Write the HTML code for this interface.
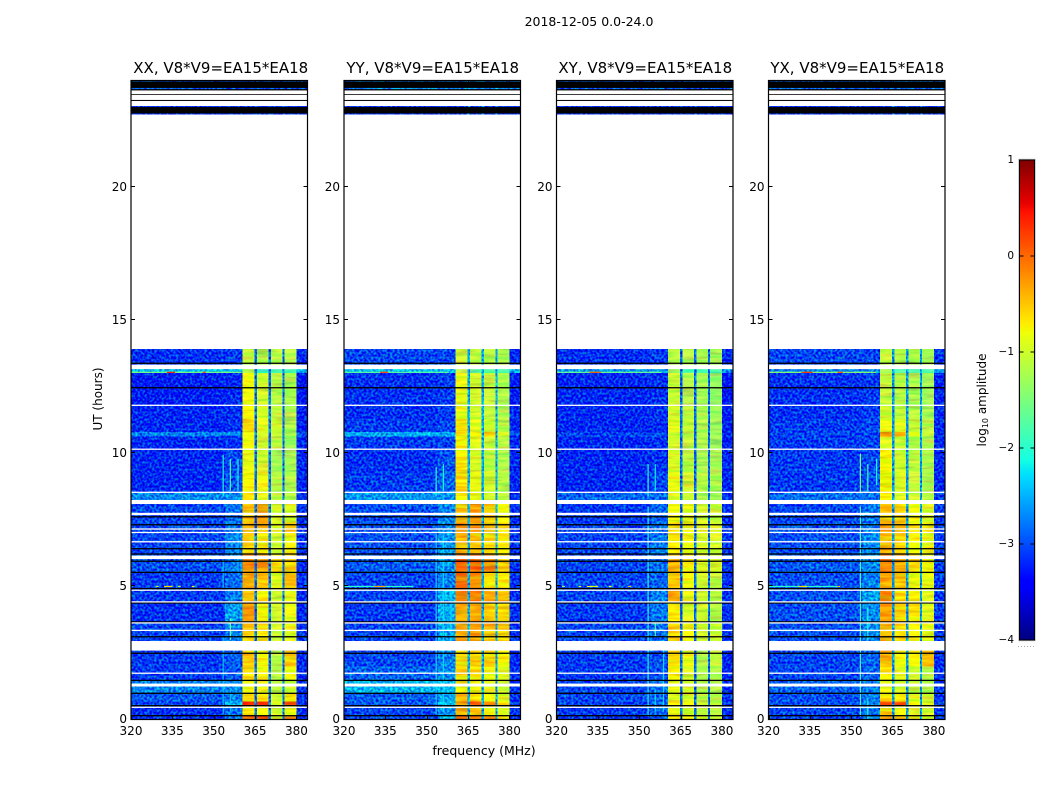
<!DOCTYPE html>
<html>
<head>
<meta charset="utf-8">
<title>2018-12-05 spectrogram</title>
<style>
html,body{margin:0;padding:0;background:#fff;width:1050px;height:800px;overflow:hidden}
svg{display:block}
text{font-family:"DejaVu Sans","Liberation Sans",sans-serif;fill:#000}
</style>
</head>
<body>
<svg id="figure" xmlns="http://www.w3.org/2000/svg" width="1050" height="800" viewBox="0 0 1050 800">
  <defs>
    <filter id="speckle" filterUnits="userSpaceOnUse" x="0" y="0" width="1050" height="800" color-interpolation-filters="sRGB">
      <feTurbulence type="fractalNoise" baseFrequency="0.42" numOctaves="1" seed="7" result="n"/>
      <feColorMatrix in="n" type="matrix" values="0 0 0 0 0.5  2.4 0 0 0 -0.7  0 1.2 0 0 -0.1  0 0 0 0 1" result="c"/>
      <feComposite in="SourceGraphic" in2="c" operator="arithmetic" k1="0" k2="1" k3="0.65" k4="-0.36" result="m"/>
      <feComposite in="m" in2="SourceGraphic" operator="in"/>
    </filter>
    <filter id="streak" filterUnits="userSpaceOnUse" x="0" y="0" width="1050" height="800" color-interpolation-filters="sRGB">
      <feTurbulence type="fractalNoise" baseFrequency="0.04 0.3" numOctaves="2" seed="11" result="n"/>
      <feColorMatrix in="n" type="matrix" values="0 2 0 0 -0.5  2.2 0 0 0 -0.6  0 0 0 0 0.5  0 0 0 0 1" result="c"/>
      <feComposite in="SourceGraphic" in2="c" operator="arithmetic" k1="0" k2="1" k3="0.28" k4="-0.14" result="m"/>
      <feComposite in="m" in2="SourceGraphic" operator="in"/>
    </filter>
  </defs>
  <text x="589" y="26" text-anchor="middle" font-size="12.5">2018-12-05 0.0-24.0</text>
  <text x="484" y="755" text-anchor="middle" font-size="12.5">frequency (MHz)</text>
  <text transform="translate(102,399) rotate(-90)" text-anchor="middle" font-size="12">UT (hours)</text>
  <text transform="translate(986,400) rotate(-90)" text-anchor="middle" font-size="12">log<tspan font-size="8" dy="2">10</tspan><tspan dy="-2"> amplitude</tspan></text>
  <g id="panels"></g>
  <g id="colorbar"></g>
</svg>
<script>
// Frequency channels (MHz) and time rows (hours)
const freqEdges = [320, 354, 360.5, 364.7, 365.6, 369.9, 370.8, 375, 375.7, 380, 384];
const timeEdges = [0, 0.14, 0.52, 0.68, 0.98, 1.47, 2, 2.95, 3.3, 3.67, 4.38, 4.92, 5.53, 6.18, 7, 7.4, 8.25, 8.54, 9.3, 10.16, 10.63, 10.81, 11.3, 11.81, 13.02, 13.17, 13.93, 22.74, 23.06, 23.67, 24];
const xTicks = [320, 335, 350, 365, 380];
const yTicks = [0, 5, 10, 15, 20];
const cbarTicks = [1, 0, -1, -2, -3, -4];
const panelTitles = ['XX, V8*V9=EA15*EA18', 'YY, V8*V9=EA15*EA18', 'XY, V8*V9=EA15*EA18', 'YX, V8*V9=EA15*EA18'];

// log10 amplitude per row: [left, mid, seg1, seg2, seg3, seg4, right]; null = no data
const xxValues = [
 [-3.1,-2.7,0.1,0.1,-0.9,-0.2,-3.1],
 [-3.1,-2.8,-0.7,-0.8,-1,-0.8,-3.1],
 [-3,-2.4,0.35,0.35,-0.9,0.1,-3.1],
 [-2.9,-2.7,-0.6,-0.6,-1,-0.7,-3.1],
 [-2.7,-2.65,-0.8,-0.85,-1.1,-1,-3.1],
 [-3.05,-2.9,-0.65,-0.8,-1.15,-0.8,-3.15],
 [-3.05,-2.9,-0.5,-0.75,-1.15,-0.55,-3.15],
 [-3,-2.7,-0.6,-0.7,-1.05,-0.9,-3.1],
 [-3,-2.7,-0.45,-0.6,-1,-0.85,-3.1],
 [-3.1,-2.55,-0.25,-0.75,-1,-0.85,-3.15],
 [-3.05,-2.75,-0.5,-0.7,-1,-0.85,-3.15],
 [-3.05,-2.8,-0.35,-0.5,-0.9,-0.5,-3.1],
 [-2.95,-2.75,-0.2,-0.3,-0.6,-0.55,-3.1],
 [-3,-2.7,-0.55,-0.6,-1,-0.8,-3.1],
 [-3,-2.75,-0.4,-0.45,-0.9,-0.5,-3.1],
 [-3,-2.8,-0.5,-0.3,-0.95,-0.9,-3.1],
 [-2.65,-2.65,-0.7,-0.9,-1.1,-1.15,-3.1],
 [-3.15,-2.95,-0.75,-0.85,-1.15,-1.2,-3.15],
 [-3.15,-3,-0.85,-1,-1.25,-1.25,-3.15],
 [-3.15,-3.1,-0.8,-1,-1.1,-1.3,-3.15],
 [-2.7,-2.7,-0.8,-1,-1.05,-1.2,-2.95],
 [-3.15,-3.1,-0.6,-0.9,-1,-1.2,-3.2],
 [-3.15,-3.1,-0.75,-0.95,-1.1,-1.2,-3.2],
 [-3.2,-3.15,-0.8,-1,-1.15,-1.2,-3.25],
 [-2.4,-2.4,-1.2,-1.9,-1.8,-1.8,-2.5],
 [-3.1,-3.05,-1.1,-1.15,-1.15,-1.2,-3.15],
 null,
 [-3.1,-3.1,-3.1,-3.1,-3.1,-3.1,-3.1],
 null,
 [-2.9,-2.9,-2.9,-2.9,-2.9,-2.9,-2.9]
];
const yyValues = [
 [-3,-2.5,0,-0.1,-0.3,-0.6,-3.1],
 [-3,-2.6,-0.4,-0.5,-0.8,-0.9,-3.1],
 [-2.9,-2.4,-0.2,0.1,-0.2,-0.7,-3.1],
 [-2.9,-2.5,-0.5,-0.6,-0.8,-0.9,-3.1],
 [-2.45,-2.4,-0.7,-0.8,-0.9,-1,-3.1],
 [-2.85,-2.65,-0.55,-0.6,-0.8,-0.9,-3.1],
 [-3,-2.7,-0.55,-0.55,-0.55,-0.75,-3.15],
 [-3,-2.55,-0.4,-0.3,-0.5,-0.6,-3.1],
 [-3,-2.5,-0.3,-0.25,-0.4,-0.5,-3.1],
 [-3.05,-2.5,-0.35,-0.35,-0.55,-0.6,-3.1],
 [-3,-2.45,-0.15,-0.15,-0.4,-0.45,-3.1],
 [-3,-2.7,-0.1,-0.25,-0.6,-0.7,-3.1],
 [-2.9,-2.6,-0.05,0,-0.2,-0.55,-3.1],
 [-2.95,-2.6,-0.4,-0.45,-0.6,-0.7,-3.1],
 [-2.95,-2.65,-0.2,-0.25,-0.4,-0.6,-3.1],
 [-2.95,-2.7,-0.5,-0.3,-0.5,-0.8,-3.1],
 [-2.6,-2.6,-0.7,-0.85,-1,-1.1,-3.1],
 [-3.05,-2.85,-0.65,-0.85,-1,-1.15,-3.15],
 [-3.1,-2.95,-0.75,-0.95,-1.1,-1.2,-3.15],
 [-3.05,-3,-0.75,-0.9,-1.05,-1.15,-3.15],
 [-2.5,-2.5,-0.55,-0.75,-0.55,-0.95,-2.95],
 [-3.05,-3,-0.75,-0.9,-1,-1.15,-3.15],
 [-3.1,-3.05,-0.85,-1,-1.1,-1.2,-3.15],
 [-3.1,-3.05,-0.85,-1,-1.1,-1.2,-3.2],
 [-2.4,-2.4,-1.2,-1.7,-1.7,-1.8,-2.5],
 [-3,-3,-1.05,-1.1,-1.15,-1.2,-3.15],
 null,
 [-3.1,-3.1,-3.1,-3.1,-3.1,-3.1,-3.1],
 null,
 [-2.7,-2.7,-2.7,-2.7,-2.7,-2.7,-2.7]
];
const xyValues = [
 [-3.05,-2.85,-0.6,-0.75,-0.9,-1,-3.1],
 [-3.05,-2.85,-0.85,-0.95,-1.1,-1.15,-3.1],
 [-3,-2.85,-0.65,-0.8,-1,-1.05,-3.1],
 [-3,-2.85,-0.9,-0.95,-1.1,-1.15,-3.1],
 [-3,-2.8,-0.85,-0.95,-1.15,-1.2,-3.1],
 [-3.05,-2.95,-0.75,-0.95,-1.2,-1.2,-3.15],
 [-3.05,-2.95,-0.6,-0.85,-1.2,-1.1,-3.15],
 [-3,-2.8,-0.55,-0.8,-1,-1,-3.1],
 [-3,-2.8,-0.55,-0.8,-0.95,-1,-3.1],
 [-3.05,-2.75,-0.7,-0.95,-1,-1.15,-3.1],
 [-3,-2.7,-0.35,-0.85,-1,-1.1,-3.1],
 [-3,-2.85,-0.5,-0.8,-1,-1.1,-3.1],
 [-3,-2.8,-0.4,-0.7,-0.9,-0.95,-3.1],
 [-3,-2.75,-0.7,-0.8,-0.95,-1,-3.1],
 [-3,-2.8,-0.6,-0.75,-0.9,-0.95,-3.1],
 [-3.05,-2.85,-0.8,-0.85,-1,-1.05,-3.1],
 [-2.85,-2.8,-0.95,-1.05,-1.2,-1.25,-3.1],
 [-3.15,-3,-0.85,-1,-1.15,-1.2,-3.15],
 [-3.15,-3.1,-0.95,-1.1,-1.25,-1.25,-3.15],
 [-3.15,-3.1,-1,-1.1,-1.2,-1.3,-3.2],
 [-3,-3,-1,-1.1,-1.2,-1.3,-3.15],
 [-3.15,-3.1,-0.9,-1.05,-1.2,-1.3,-3.2],
 [-3.15,-3.1,-1,-1.1,-1.2,-1.3,-3.2],
 [-3.15,-3.1,-1.05,-1.2,-1.25,-1.35,-3.25],
 [-2.6,-2.6,-1.3,-1.8,-1.8,-1.8,-2.7],
 [-3.1,-3.05,-1.15,-1.2,-1.2,-1.25,-3.15],
 null,
 [-3.1,-3.1,-3.1,-3.1,-3.1,-3.1,-3.1],
 null,
 [-2.9,-2.9,-2.9,-2.9,-2.9,-2.9,-2.9]
];
const yxValues = [
 [-3,-2.7,-0.4,-0.6,-0.8,-0.9,-3.05],
 [-3,-2.75,-0.55,-0.8,-0.95,-1,-3.05],
 [-2.95,-2.7,0.1,0.05,-0.75,-0.9,-3.05],
 [-2.95,-2.7,-0.55,-0.7,-0.9,-1,-3.05],
 [-2.85,-2.75,-0.85,-0.95,-1.05,-1.15,-3.05],
 [-3,-2.85,-0.75,-0.9,-1,-1.15,-3.1],
 [-3,-2.85,-0.4,-0.8,-0.75,-0.45,-3.1],
 [-2.95,-2.7,-0.35,-0.65,-0.8,-0.85,-3.05],
 [-2.95,-2.65,-0.4,-0.6,-0.75,-0.85,-3.05],
 [-2.95,-2.65,-0.3,-0.55,-0.6,-0.9,-3.05],
 [-2.95,-2.55,-0.2,-0.6,-0.75,-0.9,-3.05],
 [-2.95,-2.7,-0.35,-0.5,-0.8,-0.85,-3.05],
 [-2.9,-2.65,-0.1,-0.35,-0.6,-0.75,-3.05],
 [-2.95,-2.65,-0.45,-0.55,-0.75,-0.85,-3.05],
 [-2.95,-2.7,-0.3,-0.4,-0.6,-0.75,-3.05],
 [-3,-2.75,-0.5,-0.55,-0.8,-0.95,-3.05],
 [-2.8,-2.75,-0.75,-0.95,-1.05,-1.15,-3.05],
 [-3.05,-2.95,-0.75,-0.95,-1.1,-1.2,-3.15],
 [-3.05,-3,-0.75,-1,-1.1,-1.2,-3.15],
 [-3.05,-3,-0.95,-1.05,-1.15,-1.2,-3.15],
 [-3,-3,-0.35,-0.4,-0.85,-1.1,-3.05],
 [-3.05,-3,-0.85,-0.9,-1.05,-1.15,-3.15],
 [-3.1,-3.05,-1,-1.1,-1.15,-1.25,-3.15],
 [-3.1,-3.05,-1.1,-1.15,-1.2,-1.3,-3.2],
 [-2.7,-2.7,-1.3,-1.8,-1.8,-1.8,-2.6],
 [-3,-3,-1.1,-1.15,-1.15,-1.25,-3.1],
 null,
 [-3.1,-3.1,-3.1,-3.1,-3.1,-3.1,-3.1],
 null,
 [-2.8,-2.8,-2.8,-2.8,-2.8,-2.8,-2.8]
];
// Level of the narrow channel gaps in each panel
const gapLevels = [-2.8, -2.5, -2.85, -2.6];

// Vertical interference lines per panel: [MHz, start h, end h, level]
const xxLines = [[353.2,0.2,3.1,-2.4],[353.2,4.95,6,-2.4],[353.2,8.4,9.95,-2.1],[355.8,0.3,1.1,-2.4],[355.8,3,3.8,-1.6],[355.8,8.6,9.8,-1.8],[358.6,8.6,9.8,-2.1],[358.6,5.5,7,-2.4]];
const yyLines = [[353.2,0.2,7,-2.3],[353.2,8.4,9.5,-2.1],[355.8,0.3,6.9,-2.3],[355.8,8.6,9.6,-2.1],[358.6,3,5,-2.3]];
const xyLines = [[353,0.1,8,-2.1],[353,8.4,9.6,-2],[355.6,3.1,3.7,-1.8],[355.6,0.3,1.1,-2.3],[355.6,8.6,9.6,-2.2],[358.6,0.3,3,-2.3]];
const yxLines = [[353.1,0.1,8,-1.9],[353.1,8.5,10,-1.5],[355.8,0,0.7,-2.1],[355.8,3,4.2,-2.1],[355.8,8.6,9.6,-1.9],[359,8.8,9.8,-2.1]];

// Short bright horizontal runs per panel: [start MHz, end MHz, hour, level]
const xxBursts = [[320,360,13.05,-1.5],[333,336,13.05,0.4],[346,347,13.05,0.2],[329,330,5,-1],[332,335,5,-0.6],[337,338,5,-1],[342,343,5,-0.9]];
const yyBursts = [[320,358,13.05,-1.7],[333,336,13.05,0.2],[320,345,5,-2],[331,335,5,-0.3]];
const xyBursts = [[320,358,13.05,-1.6],[332,336,13.05,0.1],[322,323,5,-1.2],[328,329,5,-1],[331,335,5,-0.9],[339,340,5,-0.8],[346,347,5,-0.5]];
const yxBursts = [[320,359,13.05,-1.4],[332,336,13.05,0.3],[345,347,13.05,0.1],[320,345,5,-2],[331,334,5,-0.6],[345,346,5,-0.5]];

// Flagged time ranges common to all panels (hours)
const whiteBands = [[1.24,1.35],[2.59,2.95],[6.03,6.16],[7.68,7.77],[8.1,8.25],[13.17,13.34],[23.07,23.25],[23.29,23.48],[23.51,23.64]];
const whiteLines = [0.459,1.74,3.35,3.63,4.42,4.86,6.68,7.03,7.16,8.54,10.16,11.81];
const blackBands = [[22.78,23.02],[23.74,23.98]];
const blackLines = [0.143,0.519,0.985,1.47,2.49,3.11,3.67,4.38,4.92,5.53,5.95,6.22,6.42,7.32,7.62,12.47,13.39,23.27,23.5,23.67];

const panelValues = [xxValues, yyValues, xyValues, yxValues];
const panelLines = [xxLines, yyLines, xyLines, yxLines];
const panelBursts = [xxBursts, yyBursts, xyBursts, yxBursts];
const panelKeys = ['xx', 'yy', 'xy', 'yx'];
const panelLefts = [131, 344, 556.5, 768.5];

const NS = 'http://www.w3.org/2000/svg';
const AX_W = 176.5, AX_TOP = 81, AX_BOTTOM = 719.5;

function mk(tag, attrs, parent) {
  const el = document.createElementNS(NS, tag);
  for (const k in attrs) el.setAttribute(k, attrs[k]);
  parent.appendChild(el);
  return el;
}
function ramp(t, pts) {
  for (let i = 1; i < pts.length; i++) {
    if (t <= pts[i][0]) {
      const a = pts[i - 1], b = pts[i];
      return a[1] + (b[1] - a[1]) * (t - a[0]) / (b[0] - a[0]);
    }
  }
  return pts[pts.length - 1][1];
}
function jet(v) {
  const t = Math.max(0, Math.min(1, (v + 4) / 5));
  const r = ramp(t, [[0,0],[0.35,0],[0.66,1],[0.89,1],[1,0.5]]);
  const g = ramp(t, [[0,0],[0.125,0],[0.375,1],[0.64,1],[0.91,0],[1,0]]);
  const b = ramp(t, [[0,0.5],[0.11,1],[0.34,1],[0.65,0],[1,0]]);
  return 'rgb(' + Math.round(r * 255) + ',' + Math.round(g * 255) + ',' + Math.round(b * 255) + ')';
}
function yScale(h) { return AX_BOTTOM - (h / 24) * (AX_BOTTOM - AX_TOP); }
function xScaleFor(left) { return f => left + (f - 320) / 64 * AX_W; }
// maps a channel index onto the seven-value row layout; -1 marks a narrow gap channel
const channelSlots = [0, 1, 2, -1, 3, -1, 4, -1, 5, 6];

panelValues.forEach(function (rows, p) {
  const root = document.getElementById('panels');
  const left = panelLefts[p];
  const x = xScaleFor(left);
  const g = mk('g', {}, root);
  
  

  const clipId = 'clip-' + panelKeys[p];
  const defs = mk('clipPath', { id: clipId }, g);
  mk('rect', { x: left, y: AX_TOP, width: AX_W, height: AX_BOTTOM - AX_TOP }, defs);

  const noisy = mk('g', { filter: 'url(#speckle)', 'shape-rendering': 'crispEdges', 'clip-path': 'url(#' + clipId + ')' }, g);
  
  
  const smooth = mk('g', { filter: 'url(#streak)', 'shape-rendering': 'crispEdges', 'clip-path': 'url(#' + clipId + ')' }, g);
  
  
  const overlay = mk('g', { 'clip-path': 'url(#' + clipId + ')' }, g);
  
  

  rows.forEach(function (row, r) {
    if (!row) return;
    channelSlots.forEach(function (slot, c) {
      const v = slot < 0 ? gapLevels[p] : row[slot];
      const x0 = x(freqEdges[c]), x1 = x(freqEdges[c + 1]);
      const y0 = yScale(timeEdges[r + 1]), y1 = yScale(timeEdges[r]);
      const cell = mk('rect', { x: x0, y: y0, width: x1 - x0, height: y1 - y0, fill: jet(v) }, v < -2 ? noisy : smooth);
      
      
    });
  });

  panelLines[p].forEach(function (d) {
    const line = mk('rect', { x: x(d[0]), y: yScale(d[2]), width: 1.2, height: yScale(d[1]) - yScale(d[2]), fill: jet(d[3]) }, overlay);
    
    
  });
  panelBursts[p].forEach(function (d) {
    const burst = mk('rect', { x: x(d[0]), y: yScale(d[2]) - 0.6, width: x(d[1]) - x(d[0]), height: 1.2, fill: jet(d[3]) }, overlay);
    
    
  });
  blackBands.forEach(function (d) {
    const b = mk('rect', { x: left, y: yScale(d[1]), width: AX_W, height: yScale(d[0]) - yScale(d[1]), fill: '#000' }, overlay);
    
    
  });
  blackLines.forEach(function (h) {
    const b = mk('rect', { x: left, y: yScale(h) - 0.65, width: AX_W, height: 1.3, fill: '#000' }, overlay);
    
    
  });
  whiteBands.forEach(function (d) {
    const b = mk('rect', { x: left, y: yScale(d[1]), width: AX_W, height: yScale(d[0]) - yScale(d[1]), fill: '#fff' }, overlay);
    
    
  });
  whiteLines.forEach(function (h) {
    const b = mk('rect', { x: left, y: yScale(h) - 0.65, width: AX_W, height: 1.3, fill: '#fff' }, overlay);
    
    
  });

  xTicks.forEach(function (t) {
    const px = Math.round(x(t)) + 0.5;
    const tb = mk('line', { x1: px, x2: px, y1: AX_BOTTOM, y2: AX_BOTTOM - 4, stroke: '#000', 'stroke-width': 1 }, g);
    
    
    const tt = mk('line', { x1: px, x2: px, y1: AX_TOP, y2: AX_TOP + 4, stroke: '#000', 'stroke-width': 1 }, g);
    
    
    const lab = mk('text', { x: x(t), y: 735, 'text-anchor': 'middle', 'font-size': 12 }, g);
    lab.textContent = t;
    
    
  });
  yTicks.forEach(function (t) {
    const py = Math.round(yScale(t)) - 0.5;
    const tl = mk('line', { x1: left, x2: left + 4, y1: py, y2: py, stroke: '#000', 'stroke-width': 1 }, g);
    
    
    const tr = mk('line', { x1: left + AX_W, x2: left + AX_W - 4, y1: py, y2: py, stroke: '#000', 'stroke-width': 1 }, g);
    
    
    const lab = mk('text', { x: left - 4, y: yScale(t) + 3.5, 'text-anchor': 'end', 'font-size': 12 }, g);
    lab.textContent = t;
    
    
  });

  const frame = mk('rect', { x: left, y: AX_TOP - 0.5, width: AX_W, height: AX_BOTTOM - AX_TOP + 0.5, fill: 'none', stroke: '#000', 'stroke-width': 1.2 }, g);
  
  

  const title = mk('text', { x: left + AX_W / 2 + (p === 0 ? 1.5 : 0.5), y: 73, 'text-anchor': 'middle', 'font-size': 15 }, g);
  title.textContent = panelTitles[p];
  
  
});

(function drawColorbar() {
  const root = document.getElementById('colorbar');
  const top = 160, bottom = 640, x0 = 1019.5, x1 = 1034.5;
  const cy = v => bottom - (v + 4) / 5 * (bottom - top);
  const strips = mk('g', { 'shape-rendering': 'crispEdges' }, root);
  
  
  for (let i = 0; i < 240; i++) {
    const v = -4 + (i + 0.5) * 5 / 240;
    const s = mk('rect', { x: x0, y: bottom - (i + 1) * 2, width: x1 - x0, height: 2, fill: jet(v) }, strips);
    
    
  }
  cbarTicks.forEach(function (t) {
    const py = cy(t);
    const a = mk('line', { x1: x0, x2: x0 + 4, y1: py, y2: py, stroke: '#000', 'stroke-width': 1 }, root);
    
    
    const b = mk('line', { x1: x1, x2: x1 - 4, y1: py, y2: py, stroke: '#000', 'stroke-width': 1 }, root);
    
    
    const lab = mk('text', { x: 1014, y: py + 3, 'text-anchor': 'end', 'font-size': 10.5 }, root);
    lab.textContent = String(t).replace('-', '\u2212');
    
    
  });
  const halo = mk('rect', { x: x0 - 0.8, y: top - 0.8, width: x1 - x0 + 1.6, height: bottom - top + 1.6, fill: 'none', stroke: '#bbb', 'stroke-width': 0.8 }, root);
  
  
  const frame = mk('rect', { x: x0, y: top, width: x1 - x0, height: bottom - top, fill: 'none', stroke: '#000', 'stroke-width': 1 }, root);
  
  
  const dots = mk('line', { x1: 1018, x2: 1035, y1: 646.5, y2: 646.5, stroke: '#aaa', 'stroke-width': 1, 'stroke-dasharray': '1 2' }, root);
  
  
})();
</script>
</body>
</html>
